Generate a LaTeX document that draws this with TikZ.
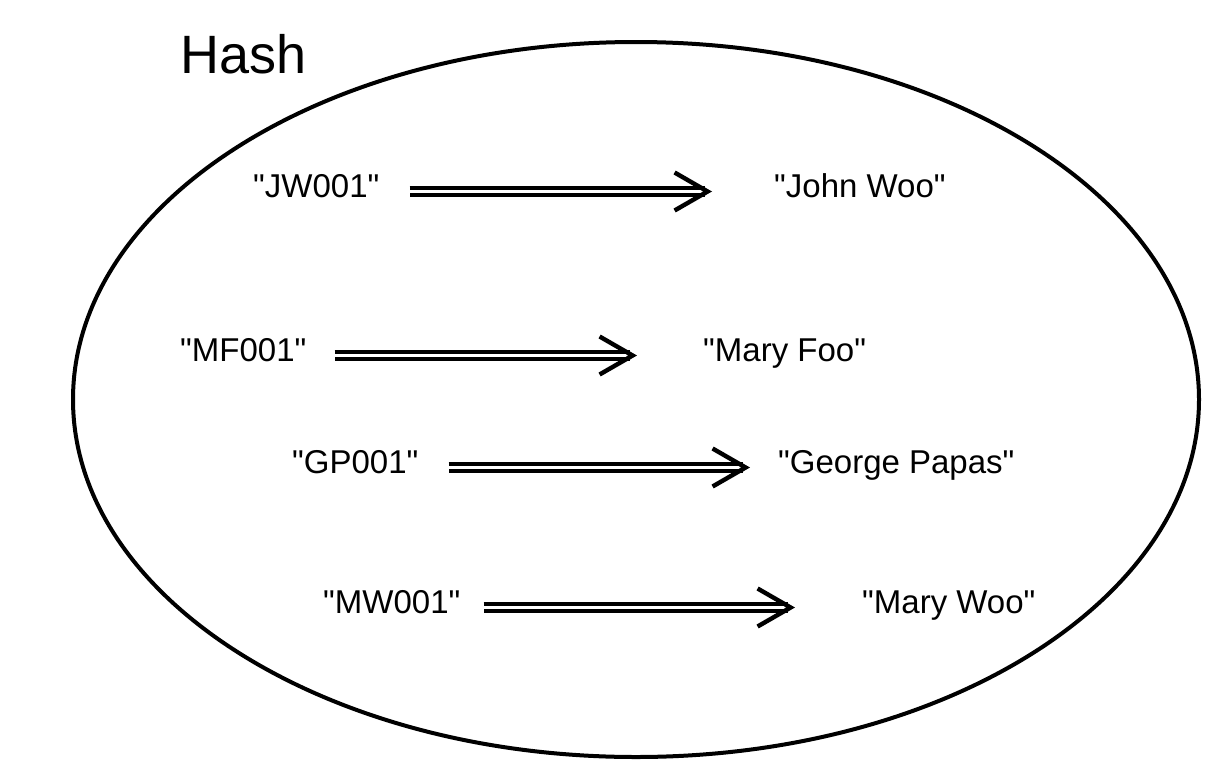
\documentclass[tikz,border=0pt]{standalone}
\usepackage{fontspec}
\newfontfamily\plainsans{Liberation Sans}
\usetikzlibrary{arrows.meta}
\newcommand{\qq}[1]{"#1"}

\begin{document}
\begin{tikzpicture}[x=1pt,y=-1pt,
  txt/.style={anchor=base west,inner sep=0pt,text height=11pt,text depth=0pt,
              font=\plainsans\fontsize{33}{40}\selectfont},
  maps/.style={draw,line width=4.4pt,double,double distance=2.8pt,
               -{Straight Barb[length=33pt,width=38pt,line width=4.4pt]}}]
  \useasboundingbox (0,0) rectangle (1215,774);
  % the hash itself
  \draw[line width=4pt] (636,399.5) ellipse [x radius=563,y radius=357.5];
  \node[anchor=base west,inner sep=0pt,font=\plainsans\fontsize{54}{60}\selectfont] (title) at (180,73) {Hash};
  % keys and values
  \node[txt] (jw) at (253,197) {\qq{JW001}};
  \node[txt] (jwo) at (774,197) {\qq{John Woo}};
  \node[txt] (mf) at (180,361) {\qq{MF001}};
  \node[txt] (mfo) at (703,361) {\qq{Mary Foo}};
  \node[txt] (gp) at (292,473) {\qq{GP001}};
  \node[txt] (gpo) at (778,473) {\qq{George Papas}};
  \node[txt] (mw) at (323,613) {\qq{MW001}};
  \node[txt] (mwo) at (862,613) {\qq{Mary Woo}};
  \draw[maps,shorten <=30pt,shorten >=62pt] (jw.east) -- (jwo.west);
  \draw[maps,shorten <=28pt,shorten >=66pt] (mf.east) -- (mfo.west);
  \draw[maps,shorten <=30pt,shorten >=28pt] (gp.east) -- (gpo.west);
  \draw[maps,shorten <=23pt,shorten >=67pt] (mw.east) -- (mwo.west);
\end{tikzpicture}
\end{document}
